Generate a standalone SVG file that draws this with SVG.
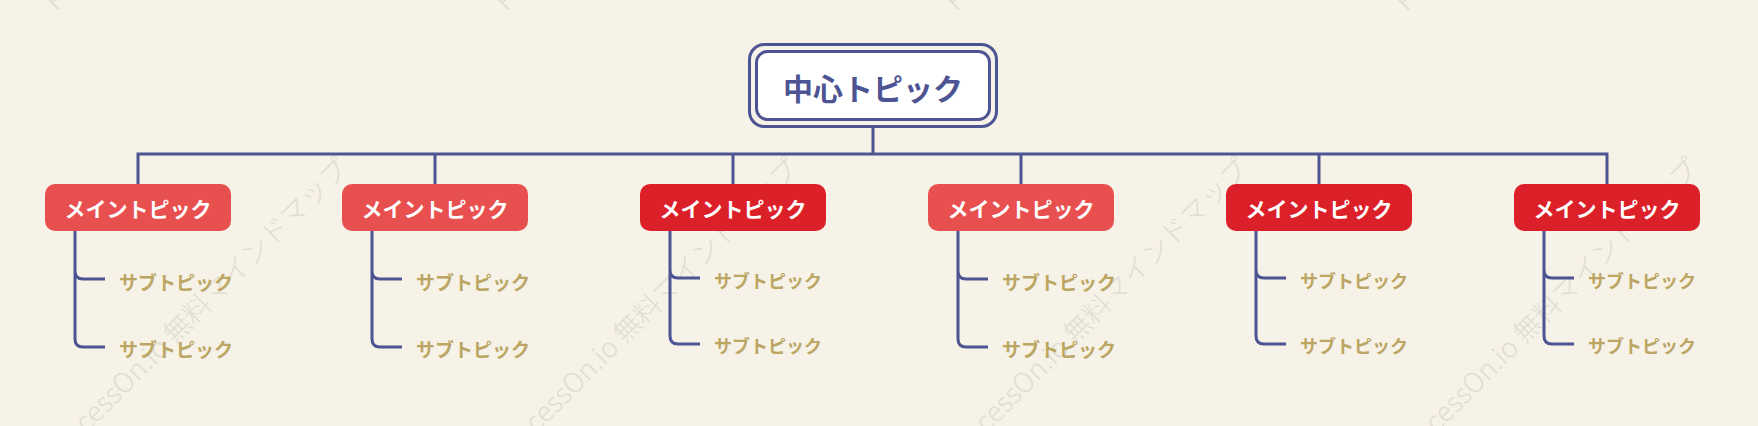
<svg xmlns="http://www.w3.org/2000/svg" width="1758" height="426" viewBox="0 0 1758 426">
  <style>
    .wm { font-family: "Noto Sans CJK JP", "Noto Sans", sans-serif; font-size: 27.5px; font-weight: 300; fill: #E0DDD4; }
    .conn { fill: none; stroke: #4D5494; stroke-width: 3; }
    .center-outer { fill: #F6F2E7; stroke: #4D5494; stroke-width: 3; }
    .center-inner { fill: #FFFFFF; stroke: #4D5494; stroke-width: 3; }
    .center-text { font-family: "Noto Sans CJK JP", sans-serif; font-size: 30px; font-weight: 700; fill: #4D5494; text-anchor: middle; dominant-baseline: central; }
    .main-light { fill: #E85050; }
    .main-dark { fill: #DC2029; }
    .main-text { font-family: "Noto Sans CJK JP", sans-serif; font-size: 21px; font-weight: 700; fill: #FFFFFF; text-anchor: middle; dominant-baseline: central; }
    .sub-text { font-family: "Noto Sans CJK JP", sans-serif; font-weight: 700; fill: #BBA663; dominant-baseline: central; }
    .s19 { font-size: 19px; }
    .s18 { font-size: 18px; }
  </style>
  <rect width="1758" height="426" fill="#F6F2E7"/>
  <g id="watermark">
    <text class="wm" transform="translate(56,464) rotate(-45)">ProcessOn.io 無料マインドマップ</text>
    <text class="wm" transform="translate(506,464) rotate(-45)">ProcessOn.io 無料マインドマップ</text>
    <text class="wm" transform="translate(956,464) rotate(-45)">ProcessOn.io 無料マインドマップ</text>
    <text class="wm" transform="translate(1406,464) rotate(-45)">ProcessOn.io 無料マインドマップ</text>
    <text class="wm" transform="translate(56,12) rotate(-45)">ProcessOn.io 無料マインドマップ</text>
    <text class="wm" transform="translate(506,12) rotate(-45)">ProcessOn.io 無料マインドマップ</text>
    <text class="wm" transform="translate(956,12) rotate(-45)">ProcessOn.io 無料マインドマップ</text>
    <text class="wm" transform="translate(1406,12) rotate(-45)">ProcessOn.io 無料マインドマップ</text>
  </g>
  <g id="connectors">
    <path class="conn" d="M873 121 V154 M138 184 V154 H1607 V184 M435 154 V184 M733 154 V184 M1021 154 V184 M1319 154 V184"/>
    <path class="conn" d="M75 231 V271 Q75 279 83 279 H105 M75 231 V339 Q75 347 83 347 H105"/>
    <path class="conn" d="M372 231 V271 Q372 279 380 279 H402 M372 231 V339 Q372 347 380 347 H402"/>
    <path class="conn" d="M670 231 V270 Q670 278 678 278 H700 M670 231 V336 Q670 344 678 344 H700"/>
    <path class="conn" d="M958 231 V271 Q958 279 966 279 H988 M958 231 V339 Q958 347 966 347 H988"/>
    <path class="conn" d="M1256 231 V270 Q1256 278 1264 278 H1286 M1256 231 V336 Q1256 344 1264 344 H1286"/>
    <path class="conn" d="M1544 231 V270 Q1544 278 1552 278 H1574 M1544 231 V336 Q1544 344 1552 344 H1574"/>
  </g>
  <g id="center">
    <rect class="center-outer" x="749.5" y="44.5" width="247" height="82" rx="15"/>
    <rect class="center-inner" x="756.5" y="51.5" width="233" height="68" rx="11"/>
    <text class="center-text" x="873" y="87">中心トピック</text>
  </g>
  <g id="main1">
    <rect class="main-light" x="45" y="184" width="186" height="47" rx="10"/>
    <text class="main-text" x="138" y="208">メイントピック</text>
  </g>
  <g id="sub1a"><text class="sub-text s19" x="119" y="281">サブトピック</text></g>
  <g id="sub1b"><text class="sub-text s19" x="119" y="348">サブトピック</text></g>
  <g id="main2">
    <rect class="main-light" x="342" y="184" width="186" height="47" rx="10"/>
    <text class="main-text" x="435" y="208">メイントピック</text>
  </g>
  <g id="sub2a"><text class="sub-text s19" x="416" y="281">サブトピック</text></g>
  <g id="sub2b"><text class="sub-text s19" x="416" y="348">サブトピック</text></g>
  <g id="main3">
    <rect class="main-dark" x="640" y="184" width="186" height="47" rx="10"/>
    <text class="main-text" x="733" y="208">メイントピック</text>
  </g>
  <g id="sub3a"><text class="sub-text s18" x="714" y="280">サブトピック</text></g>
  <g id="sub3b"><text class="sub-text s18" x="714" y="345">サブトピック</text></g>
  <g id="main4">
    <rect class="main-light" x="928" y="184" width="186" height="47" rx="10"/>
    <text class="main-text" x="1021" y="208">メイントピック</text>
  </g>
  <g id="sub4a"><text class="sub-text s19" x="1002" y="281">サブトピック</text></g>
  <g id="sub4b"><text class="sub-text s19" x="1002" y="348">サブトピック</text></g>
  <g id="main5">
    <rect class="main-dark" x="1226" y="184" width="186" height="47" rx="10"/>
    <text class="main-text" x="1319" y="208">メイントピック</text>
  </g>
  <g id="sub5a"><text class="sub-text s18" x="1300" y="280">サブトピック</text></g>
  <g id="sub5b"><text class="sub-text s18" x="1300" y="345">サブトピック</text></g>
  <g id="main6">
    <rect class="main-dark" x="1514" y="184" width="186" height="47" rx="10"/>
    <text class="main-text" x="1607" y="208">メイントピック</text>
  </g>
  <g id="sub6a"><text class="sub-text s18" x="1588" y="280">サブトピック</text></g>
  <g id="sub6b"><text class="sub-text s18" x="1588" y="345">サブトピック</text></g>
</svg>
